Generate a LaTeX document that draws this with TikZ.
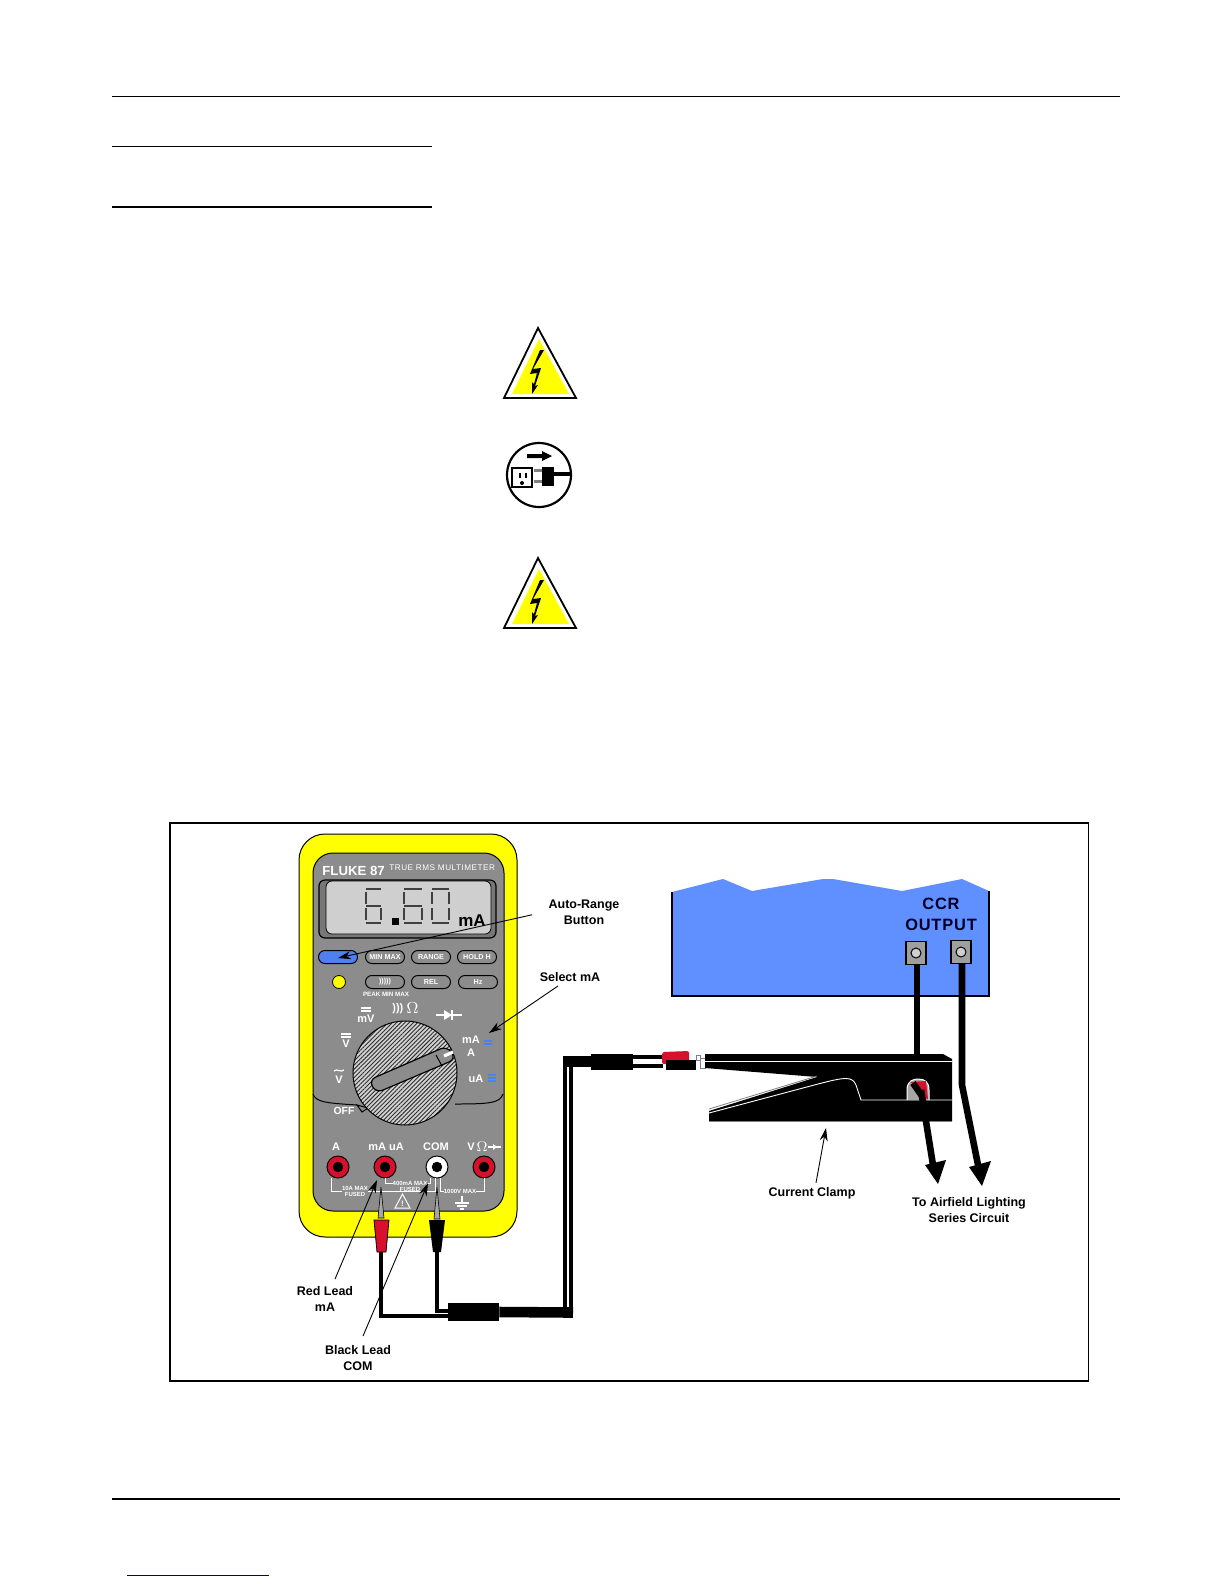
\documentclass[tikz,border=0pt]{standalone}
\usepackage{fontspec}
\setmainfont{Liberation Sans}
\usetikzlibrary{arrows.meta,patterns.meta}
\definecolor{panelgray}{HTML}{8C8C8C}
\definecolor{lcdgray}{HTML}{CFCFCF}
\definecolor{ccrblue}{HTML}{6090FF}
\definecolor{keyblue}{HTML}{5080F0}
\definecolor{jackred}{HTML}{D8102C}
\definecolor{meteryellow}{HTML}{FFFF00}
\tikzset{
    rule/.style = {line width = .45pt},
    lbl/.style = {font = \bfseries\fontsize{6.25bp}{8bp}\selectfont, align = center, inner sep = 0pt},
    pnl/.style = {text = white, inner sep = 0pt, align = center, font = \bfseries\fontsize{#1bp}{#1bp}\selectfont},
    pnl/.default = 5,
    callout/.style = {line width = .45pt, -{Stealth[length = 6.5pt, width = 4pt]}},
    keybtn/.style = {draw = black, line width = .5pt, rounded corners = 3.2pt, fill = panelgray, minimum width = 19.5bp, minimum height = 6.5bp, inner sep = 0pt, text = white, font = \bfseries\fontsize{3.6bp}{4bp}\selectfont},
    jack/.style = {circle, draw = black, line width = .5pt, fill = jackred, minimum size = 11bp, inner sep = 0pt},
    jackhole/.style = {circle, draw = black, fill = black, minimum size = 4.8bp, inner sep = 0pt},
    segm/.style = {line width = 1pt, black!75},
    lead/.style = {line width = 2pt, black},
    bigwire/.style = {line width = 3.3pt, black},
    whiteline/.style = {white, line width = .45pt},
    dialtick/.style = {white, line width = .6pt},
    termbox/.style = {draw = black, fill = gray!75, line width = .6pt, minimum width = 10bp, minimum height = 11.5bp, inner sep = 0pt}
}
\begin{document}
\begin{tikzpicture}[x = .5bp, y = -.5bp]
    \useasboundingbox[fill = white](0, 0) rectangle (1224, 1584);

    % page rules
    \coordinate (topl) at (112, 96);
    \coordinate (topr) at (1120, 96);
    \coordinate (botl) at (112, 1499);
    \coordinate (botr) at (1120, 1499);
    \draw[rule](topl) to (topr);
    \draw[line width = 1pt](botl) to (botr);
    \draw[rule](112, 146.5) to (432, 146.5);
    \draw[line width = .9pt](112, 207) to (432, 207);
    \draw[blue!50!black, line width = .5pt](127, 1575.5) to (269, 1575.5);

    % warning signs
    \foreach \yy in {0, 230}{
        \begin{scope}[yshift = -\yy*.5bp]
            \draw[line width = .9pt, fill = white](538, 328) -- (504, 398) -- (576, 398) -- cycle;
            \fill[meteryellow](539, 339) -- (512, 394) -- (569, 394) -- cycle;
            \fill(544, 350) -- (533, 369) -- (541, 368) -- (535, 386) -- (538, 385) -- (532, 394) -- (532, 382) -- (534, 384) -- (537, 373) -- (530, 374) -- (540, 350) -- cycle;
        \end{scope}
    }

    % unplug sign
    \draw[line width = 1.1pt, fill = white](539, 475) circle (32 and 32);
    \fill(527, 454) -- (542, 454) -- (542, 451) -- (552, 456) -- (542, 461) -- (542, 458) -- (527, 458) -- cycle;
    \draw[line width = .9pt](512, 468) rectangle (532, 487);
    \fill(519, 473) rectangle (520.5, 478);
    \fill(525, 473) rectangle (526.5, 478);
    \fill(522, 483) circle (2 and 2);
    \fill[gray](534, 469) rectangle (542, 472);
    \fill[gray](534, 480) rectangle (542, 483);
    \fill(542, 467) rectangle (554, 486);
    \draw[line width = 1.6pt](554, 474) to (571, 474);

    % figure frame
    \draw[line width = .8pt](170, 823) rectangle (1088.5, 1381);

    % meter body
    \draw[line width = .5pt, fill = meteryellow, rounded corners = 13bp](299, 834) rectangle (517, 1237);
    \draw[line width = .5pt, fill = panelgray, rounded corners = 10bp](313, 853) rectangle (504, 1211);
    \draw[line width = .6pt, rounded corners = 3bp, fill = panelgray!85!black](319, 880) rectangle (496, 938);
    \draw[line width = .4pt, rounded corners = 3bp, fill = lcdgray](326, 881) rectangle (491, 934);
    \node[pnl = 6.6, anchor = west] (brand) at (322, 871) {FLUKE 87};
    \node[pnl = 4, anchor = west, font = \fontsize{4.1bp}{5bp}\selectfont] (model) at (389, 868) {\addfontfeature{LetterSpace=6}TRUE RMS MULTIMETER};

    % lcd digits, a 6, a point, a 6 and a 0
    \foreach \xa/\xb in {366/381, 404/422, 432/449}{
        \draw[segm](\xa, 889) to (\xb, 889);
        \draw[segm](\xa, 923) to (\xb, 923);
        \draw[segm](\xa, 892) to (\xa, 904);
        \draw[segm](\xa, 908) to (\xa, 920);
        \draw[segm](\xb, 908) to (\xb, 920);
    }
    \foreach \xa/\xb in {366/381, 404/422}{
        \draw[segm](\xa, 906) to (\xb, 906);
    }
    \draw[segm](449, 892) to (449, 904);
    \fill(392, 918) rectangle (399, 925);
    \node[inner sep = 0pt, font = \bfseries\fontsize{8.5bp}{9bp}\selectfont] (lcdunit) at (472, 921) {mA};

    % keys
    \node[keybtn, fill = keyblue] (autokey) at (338, 957) {};
    \node[keybtn] (minmax) at (385, 957) {MIN MAX};
    \node[keybtn] (rangekey) at (431, 957) {RANGE};
    \node[keybtn] (holdkey) at (477, 957) {HOLD H};
    \node[circle, draw = black, fill = meteryellow, minimum size = 6.5bp, inner sep = 0pt] (led) at (339, 982) {};
    \node[keybtn] (peakkey) at (385, 982) {)))))};
    \node[keybtn] (relkey) at (431, 982) {REL};
    \node[keybtn] (hzkey) at (478, 982) {Hz};
    \node[pnl = 3.1] (peaklbl) at (386, 994) {PEAK MIN MAX};

    % lower panel and dial
    \draw[line width = .5pt](313, 1094) .. controls (316, 1102) and (325, 1103) .. (357, 1105);
    \draw[line width = .5pt](503, 1094) .. controls (500, 1103) and (490, 1104) .. (455, 1104);
    \draw[line width = .5pt, fill = panelgray](357, 1105) -- (362, 1112) -- (368, 1108) -- cycle;
    \fill[gray!35](405, 1073) circle (52 and 52);
    \fill[pattern = {Lines[angle = 45, distance = 1.5pt, line width = .45pt]}, pattern color = gray!35!black](405, 1073) circle (52 and 52);
    \draw[line width = .5pt](405, 1073) circle (52 and 52);
    \draw[line width = .6pt, fill = panelgray, rounded corners = 3.5bp](369, 1080) -- (447, 1046) -- (456, 1059) -- (376, 1093) -- cycle;
    \draw[line width = .5pt](436, 1055) to (442, 1066);
    \draw[white, line width = 1.6pt](444, 1056) to (453, 1052);

    % dial legends
    \node[pnl = 5.5] (dlmv) at (366, 1019) {mV};
    \draw[dialtick](361, 1008) to (371, 1008);
    \draw[dialtick](361, 1011) to (371, 1011);
    \node[pnl = 5.5, anchor = west] (dlsnd) at (392, 1009) {)))};
    \node[pnl = 7.5, anchor = west] (dlohm) at (406, 1008) {$\Omega$};
    \node[pnl = 5.5] (dlv) at (346, 1044) {V};
    \draw[dialtick](341, 1034) to (351, 1034);
    \draw[dialtick](341, 1037) to (351, 1037);
    \node[pnl = 5.5] (dlac) at (339, 1080) {V};
    \draw[dialtick](334, 1071) .. controls (337, 1068) and (341, 1073) .. (344, 1070);
    \node[pnl = 5.5] (dlma) at (471, 1040) {mA};
    \node[pnl = 5.5] (dla) at (471, 1053) {A};
    \node[pnl = 5.5] (dlua) at (476, 1079) {uA};
    \node[pnl = 5.2] (dloff) at (344, 1111) {OFF};
    \draw[white, line width = .6pt](436, 1015) to (462, 1015);
    \fill[white](444, 1010) -- (444, 1020) -- (452, 1015) -- cycle;
    \draw[white, line width = .7pt](452, 1010) to (452, 1020);
    \draw[keyblue, line width = .7pt](484, 1041) to (492, 1041);
    \draw[keyblue, line width = .7pt](484, 1044) to (492, 1044);
    \draw[keyblue, line width = .7pt](488, 1075) to (496, 1075);
    \draw[keyblue, line width = .7pt](488, 1078) to (496, 1078);
    \draw[keyblue, line width = .7pt](488, 1081) to (496, 1081);

    % jacks
    \node[pnl = 5.5] (ja) at (336, 1147) {A};
    \node[pnl = 5.5] (jb) at (386, 1147) {mA uA};
    \node[pnl = 5.5] (jc) at (436, 1147) {COM};
    \node[pnl = 5.5, anchor = west] (jd) at (467, 1147) {V};
    \node[pnl = 7, anchor = west] (jdo) at (476, 1147) {$\Omega$};
    \draw[white, line width = .6pt](488, 1147) to (501, 1147);
    \fill[white](493, 1144) -- (493, 1150) -- (497, 1147) -- cycle;
    \node[jack] (jacka) at (338, 1167) {};
    \node[jack] (jackb) at (385, 1167) {};
    \node[jack, fill = white] (jackc) at (437, 1167) {};
    \node[jack] (jackd) at (484, 1167) {};
    \foreach \jk in {jacka, jackb, jackc, jackd}{
        \node[jackhole] (\jk h) at (\jk) {};
    }

    % white fuse brackets
    \draw[whiteline](331, 1178) -- (331, 1191) -- (435, 1191) -- (435, 1178);
    \draw[whiteline](385, 1178) -- (385, 1183) -- (430, 1183) -- (430, 1178);
    \draw[whiteline](440, 1178) -- (440, 1191) -- (484, 1191) -- (484, 1178);
    \node[pnl = 3, fill = panelgray] (fusea) at (355, 1191) {10A MAX\\FUSED};
    \node[pnl = 3, fill = panelgray] (fuseb) at (410, 1186) {400mA MAX\\FUSED};
    \node[pnl = 3, fill = panelgray] (fusec) at (460, 1191) {1000V MAX};
    \draw[white, line width = .5pt](410, 1208) -- (395, 1208) -- (402.5, 1194) -- cycle;
    \node[pnl = 4] (warnmark) at (402.5, 1204) {!};
    \draw[white, line width = .6pt](462, 1196) to (462, 1203);
    \draw[white, line width = .6pt](455, 1203) to (469, 1203);
    \draw[white, line width = .6pt](457, 1206) to (467, 1206);
    \draw[white, line width = .6pt](460, 1209) to (464, 1209);

    % probes
    \fill[gray!70, draw = black, line width = .3pt](378, 1218) -- (381, 1187) -- (384, 1218) -- cycle;
    \fill[gray!70, draw = black, line width = .3pt](434, 1219) -- (437, 1187) -- (440, 1219) -- cycle;
    \draw[line width = .4pt, fill = jackred](374, 1220) -- (389, 1220) -- (386, 1252) -- (377, 1252) -- cycle;
    \fill(429, 1220) -- (445, 1220) -- (441, 1252) -- (433, 1252) -- cycle;

    % leads to the clamp
    \coordinate (reddn) at (381, 1316);
    \coordinate (blkdn) at (437, 1311);
    \draw[lead](381, 1252) -- (reddn) -- (448, 1316);
    \draw[line width = 1.8pt](437, 1252) -- (blkdn) -- (448, 1311);
    \node[fill = black, inner sep = 0pt, minimum width = 25.5bp, minimum height = 9bp] (joint) at (473.5, 1312) {};
    \draw[line width = 5.3pt](joint.east) to (573, 1312.5);
    \draw[line width = 1.9pt](565, 1318) to (565, 1061);
    \draw[line width = 1.9pt](571.3, 1318) to (571.3, 1061);
    \draw[line width = 5.2pt](563, 1061.5) to (592, 1061.5);
    \node[fill = black, inner sep = 0pt, minimum width = 21bp, minimum height = 8bp] (plugblk) at (612, 1062) {};
    \draw[line width = 2pt](633, 1057) to (663, 1057);
    \draw[line width = 2pt](633, 1066) to (663, 1066);
    \fill[jackred, rounded corners = 1pt](662, 1064) -- (662, 1052) -- (689, 1051) -- (689, 1064) -- cycle;
    \fill(666, 1060) rectangle (696, 1070);
    \draw[gray, line width = .5pt, fill = white](696, 1055) rectangle (700, 1060);
    \draw[gray, line width = .5pt, fill = white](700, 1058) rectangle (705, 1068);

    % clamp
    \fill(705, 1054) -- (943, 1054) -- (952, 1059) -- (952, 1121) -- (709, 1121) -- (709, 1111) -- (817, 1077) -- (705, 1068) -- cycle;
    \draw[whiteline](705, 1061) to (952, 1061);
    \draw[whiteline](709, 1113) -- (818, 1084) .. controls (845, 1077) and (852, 1076) .. (856, 1085) -- (861, 1100) -- (952, 1100);
    \draw[gray, line width = .4pt](709, 1109) to (817, 1076);
    \draw[gray, line width = .4pt](709, 1121.5) to (952, 1121.5);
    \filldraw[fill = gray!70, draw = white, line width = .5pt](907, 1100) -- (907, 1088) .. controls (908, 1081) and (913, 1079) .. (918, 1079) .. controls (925, 1079) and (929, 1082) .. (929, 1090) -- (929, 1100);
    \fill[jackred](910, 1082) -- (926, 1081) -- (928, 1099) -- (924, 1098) -- (919, 1088) -- cycle;
    \draw[bigwire](913, 1083) -- (922, 1096);

    % CCR cabinet
    \fill[ccrblue](672, 996) -- (672, 892) -- (723, 879) -- (752, 891) -- (823, 879) -- (833, 879) -- (902, 891) -- (962, 879) -- (989, 891) -- (989, 996) -- cycle;
    \draw[line width = .6pt](672, 892) -- (672, 996) -- (989, 996) -- (989, 891);
    \node[font = \bfseries\fontsize{8.2bp}{10.4bp}\selectfont, align = center, inner sep = 0pt, text = blue!15!black] (ccrlbl) at (941, 914.5) {\addfontfeature{LetterSpace=5}CCR\\ \addfontfeature{LetterSpace=5}OUTPUT};
    \node[termbox] (terma) at (916, 953) {};
    \node[termbox] (termb) at (961, 952) {};
    \filldraw[fill = lcdgray, draw = black, line width = .5pt](terma) circle (5 and 5);
    \filldraw[fill = lcdgray, draw = black, line width = .5pt](termb) circle (5 and 5);
    \coordinate (bendb) at (962, 1085);
    \coordinate (tipa) at (938, 1184);
    \coordinate (tipb) at (982, 1186);
    \draw[bigwire](terma.south) ++(1, 0) to (917, 1056);
    \draw[bigwire](962, 964) -- (bendb) -- (978, 1165);
    \draw[bigwire](921, 1090) to (933, 1165);
    \fill(925, 1165) -- (946, 1160) -- (tipa) -- cycle;
    \fill(969, 1167) -- (991, 1161) -- (tipb) -- cycle;

    % call outs
    \node[lbl] (autolbl) at (584, 912) {Auto-Range\\Button};
    \node[lbl] (sellbl) at (570, 977) {Select mA};
    \node[lbl] (clamplbl) at (812, 1193) {Current Clamp};
    \node[lbl] (airlbl) at (969, 1210) {To Airfield Lighting\\Series Circuit};
    \node[lbl] (redlbl) at (325, 1299) {Red Lead\\mA};
    \node[lbl] (blklbl) at (358, 1358) {Black Lead\\COM};
    \coordinate (autotip) at (338, 958);
    \coordinate (seltip) at (489, 1033);
    \coordinate (redtip) at (377, 1180);
    \coordinate (blktip) at (428, 1183);
    \coordinate (clamptip) at (826, 1128);
    \draw[callout](autolbl.south west) ++(-16, -10) to (autotip);
    \draw[callout](sellbl.south) ++(-12, 4) to (seltip);
    \draw[callout](redlbl.north) ++(10, -7) to (redtip);
    \draw[callout](blklbl.north) ++(5, -9) to (blktip);
    \draw[callout](clamplbl.north) ++(4, -4) to (clamptip);
\end{tikzpicture}
\end{document}
